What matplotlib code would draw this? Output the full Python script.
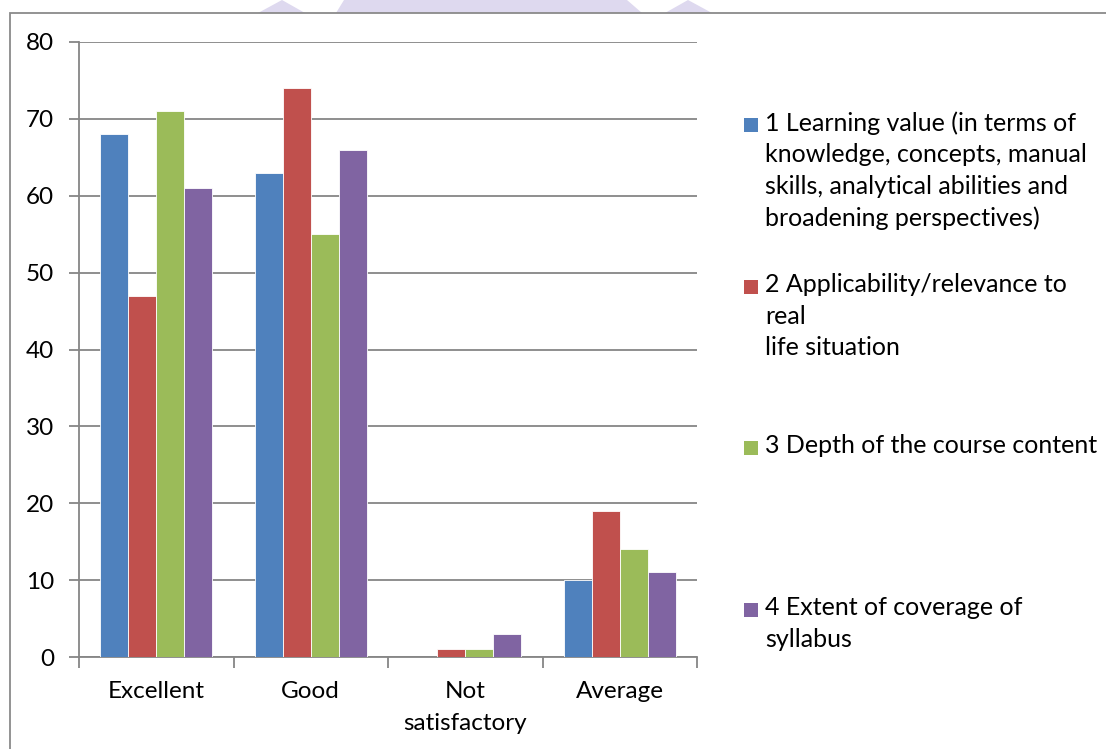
import matplotlib.pyplot as plt
from matplotlib.patches import Rectangle, Polygon
import numpy as np

plt.rcParams['font.family'] = ['Lato', 'DejaVu Sans']

categories = ['Excellent', 'Good', 'Not\nsatisfactory', 'Average']
series_labels = [
    '1 Learning value (in terms of\nknowledge, concepts, manual\nskills, analytical abilities and\nbroadening perspectives)',
    '2 Applicability/relevance to\nreal\nlife situation',
    '3 Depth of the course content',
    '4 Extent of coverage of\nsyllabus',
]
learning_value = [68, 63, 0, 10]
applicability = [47, 74, 1, 19]
depth = [71, 55, 1, 14]
coverage = [61, 66, 3, 11]
series_values = [learning_value, applicability, depth, coverage]
colors = ['#4F81BD', '#C0504D', '#9BBB59', '#8064A2']

W, H = 1106, 749
fig = plt.figure(figsize=(W / 100, H / 100), dpi=100)


def px(xp, yp):
    return (xp / W, 1 - yp / H)


# faint page watermark peeking above the chart frame
wm = '#DED9EF'
for pts in [[(258, 13), (282, 0), (305, 13)],
            [(344, 0), (627, 0), (642, 13), (336, 13)],
            [(665, 13), (688, 0), (712, 13)]]:
    fig.patches.append(Polygon([px(*p) for p in pts], closed=True,
                               transform=fig.transFigure, facecolor=wm,
                               edgecolor='none', zorder=0))

# outer chart frame (runs off the right/bottom edge)
fig.patches.append(Rectangle((10 / W, -0.1), 1.2, 1 - 13 / H + 0.1,
                             transform=fig.transFigure, fill=False,
                             edgecolor='#8a8a8a', linewidth=1.3, zorder=1))

ax = fig.add_axes([79 / W, 1 - 657 / H, (697 - 79) / W, (657 - 42) / H])
ax.set_zorder(3)
ax.patch.set_alpha(0)

n = len(series_values)
bar_w = 1 / (n + 1.5)
x = np.arange(len(categories))
for i, (vals, col) in enumerate(zip(series_values, colors)):
    ax.bar(x - 2 * bar_w + (i + 0.5) * bar_w, vals, bar_w, color=col,
           edgecolor='white', linewidth=0.6, zorder=3)

ax.set_xlim(-0.5, len(categories) - 0.5)
ax.set_ylim(0, 80)
ax.set_yticks(range(0, 81, 10))
ax.yaxis.grid(True, color='#868686', linewidth=1.3)
ax.set_axisbelow(True)
ax.tick_params(axis='y', length=7, width=1.3, color='#868686', labelsize=17.5, pad=11)

ax.set_xticks(np.arange(len(categories) + 1) - 0.5)
ax.set_xticklabels([])
ax.set_xticks(x, minor=True)
ax.set_xticklabels(categories, minor=True, fontsize=17.5, linespacing=1.65)
ax.tick_params(axis='x', which='major', length=8, width=1.3, color='#868686')
ax.tick_params(axis='x', which='minor', length=0, pad=17)

for s in ['top', 'right']:
    ax.spines[s].set_visible(False)
for s in ['left', 'bottom']:
    ax.spines[s].set_color('#868686')
    ax.spines[s].set_linewidth(1.3)

# legend, entries spaced evenly down the right side
entry_tops = [125, 287, 448, 610]
for lab, col, yc in zip(series_labels, colors, entry_tops):
    fig.patches.append(Rectangle(px(744, yc + 7), 14 / W, 14 / H,
                                 transform=fig.transFigure, facecolor=col,
                                 edgecolor='none', zorder=2))
    fig.text(765 / W, 1 - (yc - 14) / H, lab, fontsize=18, va='top',
             ha='left', linespacing=1.45)

fig.savefig('out.png', dpi=100)
